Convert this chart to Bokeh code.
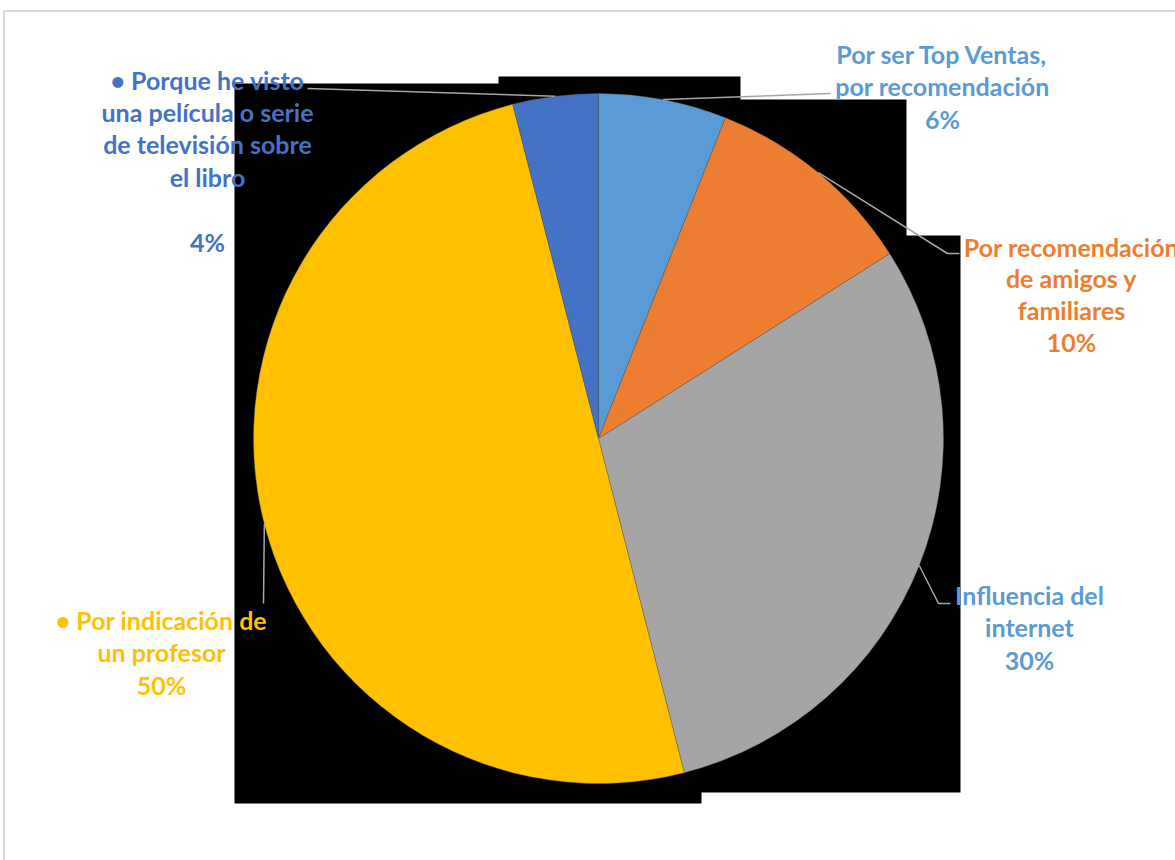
import math
from bokeh.plotting import figure
from bokeh.models import Range1d
from bokeh.core.properties import value
from bokeh.embed import file_html
from bokeh.resources import INLINE

# ---- data ----
categories = [
    "Por ser Top Ventas, por recomendación",
    "Por recomendación de amigos y familiares",
    "Influencia del internet",
    "Por indicación de un profesor",
    "Porque he visto una película o serie de televisión sobre el libro",
]
percent = [6, 10, 30, 50, 4]
slice_colors = ["#5B9BD5", "#ED7D31", "#A5A5A5", "#FFC000", "#4472C4"]
label_colors = ["#5B9BD5", "#ED7D31", "#5B9BD5", "#FFC000", "#4472C4"]
label_lines = [
    ["Por ser Top Ventas,", "por recomendación", "6%"],
    ["Por recomendación", "de amigos y", "familiares", "10%"],
    ["Influencia del", "internet", "30%"],
    ["• Por indicación de", "un profesor", "50%"],
    ["• Porque he visto", "una película o serie", "de televisión sobre", "el libro", "", "4%"],
]

# ---- layout (pixel coords of the reference; y downward, negated for plotting) ----
W, H = 1175, 860
CX, CY, R = 598, 438, 345
label_xy = [(942, 53), (1071, 246), (1029, 594), (161, 619), (207, 79)]
line_step = [32.5, 31.7, 32.5, 32.5, 32.4]
leader_elbows = [
    [(830, 93)],
    [(947, 253), (959, 253)],
    [(938, 603), (950, 603)],
    [(263, 603)],
    [(307, 88)],
]
FONT = "Lato"
FS = "25px"

p = figure(width=W, height=H, output_backend="svg", toolbar_location=None,
           x_range=Range1d(0, W), y_range=Range1d(-H, 0),
           x_axis_location=None, y_axis_location=None, min_border=0)
p.grid.visible = False
p.outline_line_color = None
p.background_fill_color = "white"
p.border_fill_color = "white"

# chart-area border (light gray)
p.line([3.5, 3.5, 1175], [-860, -10.5, -10.5], line_color="#D9D9D9", line_width=2)

# black background shape behind the pie
bx = [234, 498, 498, 740, 740, 906, 906, 960, 960, 701, 701, 234]
by = [83, 83, 76, 76, 99, 99, 235, 235, 792, 792, 803, 803]
p.patch(bx, [-v for v in by], fill_color="black", line_color=None)

# pie slices
total = sum(percent)
cum = 0
starts, ends, mids = [], [], []
for v in percent:
    a0 = math.pi / 2 - 2 * math.pi * cum / total
    cum += v
    a1 = math.pi / 2 - 2 * math.pi * cum / total
    starts.append(a0)
    ends.append(a1)
    mids.append((a0 + a1) / 2)

p.wedge(x=CX, y=-CY, radius=R, start_angle=starts, end_angle=ends,
        direction="clock", fill_color=slice_colors,
        line_color="#595959", line_width=0.6, line_alpha=0.6)

# leader lines
for m, elb in zip(mids, leader_elbows):
    sx = CX + R * math.cos(m)
    sy = CY - R * math.sin(m)
    xs = [sx] + [e[0] for e in elb]
    ys = [-sy] + [-e[1] for e in elb]
    p.line(xs, ys, line_color="#A6A6A6", line_width=1.5)

# labels
for (lx, ly), lines, col, step in zip(label_xy, label_lines, label_colors, line_step):
    xs, ys, ts = [], [], []
    for i, t in enumerate(lines):
        if t:
            xs.append(lx)
            ys.append(-(ly + i * step))
            ts.append(t)
    p.text(x=xs, y=ys, text=ts, text_align="center", text_baseline="alphabetic",
           text_font=value(FONT), text_font_style="bold", text_font_size=FS,
           text_color=col)

open("out.html", "w").write(file_html(p, INLINE))
